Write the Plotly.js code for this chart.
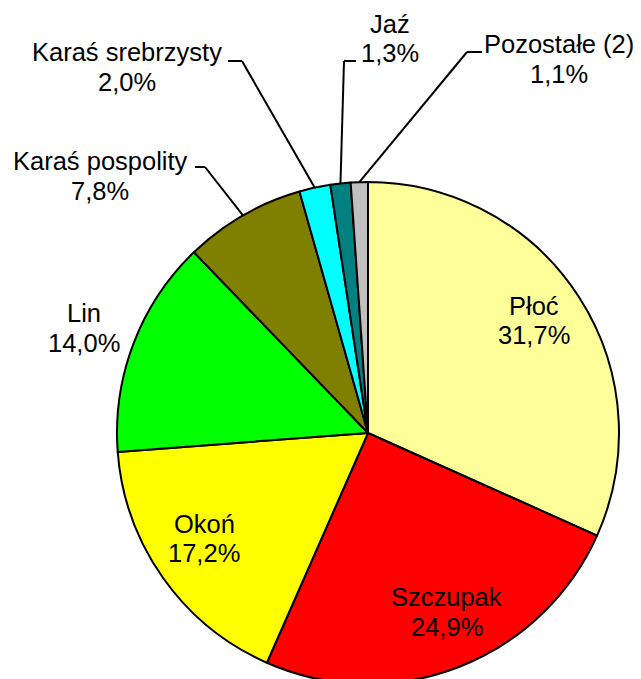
<!DOCTYPE html>
<html>
<head>
<meta charset="utf-8">
<script src="https://cdn.plot.ly/plotly-3.0.1.min.js"></script>
<style>
html,body{margin:0;padding:0;overflow:hidden;background:#fff;}
#chart{width:641px;height:686px;}
</style>
</head>
<body>
<div id="chart"></div>
<script>
// ---- data ----
const categories = ["Płoć","Szczupak","Okoń","Lin","Karaś pospolity","Karaś srebrzysty","Jaź","Pozostałe (2)"];
const shares = [31.7, 24.9, 17.2, 14.0, 7.8, 2.0, 1.3, 1.1];
const colors = ["#FFFF99","#FF0000","#FFFF00","#00FF00","#808000","#00FFFF","#008080","#C0C0C0"];

// ---- layout geometry (pixels) ----
const W = 641, H = 686;
const cx = 368, cy = 433, R = 251;
// label text centers: [x, y line1, y line2]
const labelPos = [
  [534, 306, 335],
  [447, 597, 627],
  [204, 524, 553],
  [84, 313, 343],
  [100, 161, 191],
  [127, 52, 82],
  [390, 24, 53],
  [559, 44, 74]
];
// leader lines: [startX, startY, elbowX] (elbowY = startY); null = none
const leaders = [null, null, null, null,
  [195, 167, 205],
  [228, 61, 242],
  [356, 61, 344],
  [482, 52, 467]
];

const px = x => x / W;
const py = y => (H - y) / H;
const fmt = v => v.toFixed(1).replace('.', ',') + '%';
const font = {family: 'Liberation Sans, Arial, sans-serif', size: 25.5, color: '#000'};

const total = shares.reduce((a,b)=>a+b,0);
const annotations = [];
const shapes = [];
let cum = 0;
shares.forEach((v,i) => {
  const mid = (cum + v/2) / total * 2*Math.PI;
  cum += v;
  const [lx, ly1, ly2] = labelPos[i];
  annotations.push({xref:'paper', yref:'paper', x:px(lx), y:py(ly1), text:categories[i],
    showarrow:false, xanchor:'center', yanchor:'middle', font});
  annotations.push({xref:'paper', yref:'paper', x:px(lx), y:py(ly2), text:fmt(v),
    showarrow:false, xanchor:'center', yanchor:'middle', font});
  const L = leaders[i];
  if (L) {
    const ex = cx + R*Math.sin(mid), ey = cy - R*Math.cos(mid);
    const ln = {color:'#000', width:2};
    shapes.push({type:'line', xref:'paper', yref:'paper', x0:px(L[0]), y0:py(L[1]), x1:px(L[2]), y1:py(L[1]), line:ln});
    shapes.push({type:'line', xref:'paper', yref:'paper', x0:px(L[2]), y0:py(L[1]), x1:px(ex), y1:py(ey), line:ln});
  }
});

const trace = {
  type:'pie',
  labels: categories,
  values: shares,
  sort:false,
  direction:'clockwise',
  rotation:0,
  textinfo:'none',
  hoverinfo:'label+percent',
  marker:{colors:colors, line:{color:'#000', width:2}},
  domain:{x:[px(cx-R), px(cx+R)], y:[py(cy+R), py(cy-R)]},
  showlegend:false
};

const layout = {
  width:W, height:H,
  margin:{l:0,r:0,t:0,b:0},
  paper_bgcolor:'#fff',
  showlegend:false,
  annotations, shapes
};
Plotly.newPlot('chart', [trace], layout, {displayModeBar:false, staticPlot:true});
</script>
</body>
</html>
